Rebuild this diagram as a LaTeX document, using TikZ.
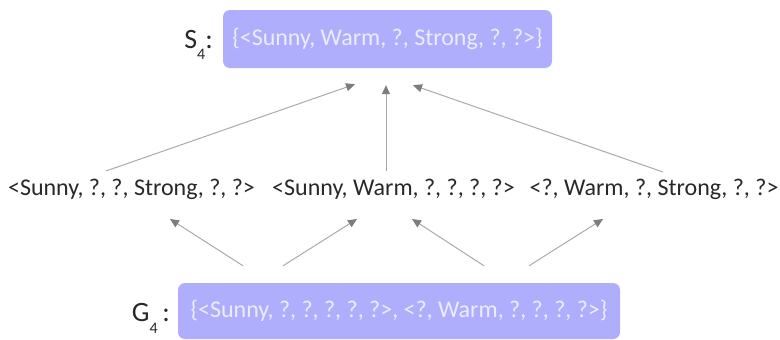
\documentclass[tikz,border=0pt]{standalone}
\usepackage{fontspec}
\setmainfont{Carlito}
\usetikzlibrary{arrows.meta}
\definecolor{boxfill}{RGB}{174,174,252}
\definecolor{boxtext}{RGB}{236,236,255}
\definecolor{linegray}{RGB}{170,170,170}
\definecolor{tipgray}{RGB}{125,125,125}
\definecolor{txt}{RGB}{40,40,40}
\begin{document}
\begin{tikzpicture}[x=1pt,y=1pt,
  setbox/.style={fill=boxfill, rounded corners=7pt, text=boxtext, inner sep=0pt, font=\fontsize{24}{28}\selectfont},
  hyp/.style={text=txt, inner sep=0pt, anchor=base, font=\fontsize{24}{28}\selectfont},
  lab/.style={text=txt, inner sep=0pt, anchor=base east, font=\fontsize{28}{32}\selectfont},
  arr/.style={draw=linegray, line width=1pt, -{Triangle[length=9pt,width=8pt,color=tipgray]}}]
\useasboundingbox (0,0) rectangle (780,-340);
\node[setbox, minimum width=329pt, minimum height=58pt] (S) at (387.5,-39) {\{<Sunny, Warm, ?, Strong, ?, ?>\}};
\node[lab] (Slab) at (213,-48) {S\raisebox{-12pt}{\fontsize{16}{18}\selectfont 4}:};
\node[hyp] (m1) at (131.5,-195) {<Sunny, ?, ?, Strong, ?, ?>};
\node[hyp] (m2) at (393.5,-195) {<Sunny, Warm, ?, ?, ?, ?>};
\node[hyp] (m3) at (654,-195) {<?, Warm, ?, Strong, ?, ?>};
\node[setbox, minimum width=442pt, minimum height=56pt] (G) at (399,-311) {\{<Sunny, ?, ?, ?, ?, ?>, <?, Warm, ?, ?, ?, ?>\}};
\node[lab] (Glab) at (170,-321) {G\raisebox{-12pt}{\fontsize{16}{18}\selectfont 4}\,:};
\draw[arr] ([shift={(-25.5,24)}]m1.base) -- ([shift={(-32.5,-16)}]S.south);
\draw[arr] ([shift={(-7.5,24)}]m2.base) -- ([shift={(-1.5,-17)}]S.south);
\draw[arr] ([shift={(9,23)}]m3.base) -- ([shift={(25.5,-17)}]S.south);
\draw[arr] ([shift={(-156,17)}]G.north) -- ([shift={(38.5,-24)}]m1.base);
\draw[arr] ([shift={(-116,17)}]G.north) -- ([shift={(-36.5,-24)}]m2.base);
\draw[arr] ([shift={(85,17)}]G.north) -- ([shift={(18.5,-24)}]m2.base);
\draw[arr] ([shift={(130,17)}]G.north) -- ([shift={(-51,-24)}]m3.base);
\end{tikzpicture}
\end{document}
